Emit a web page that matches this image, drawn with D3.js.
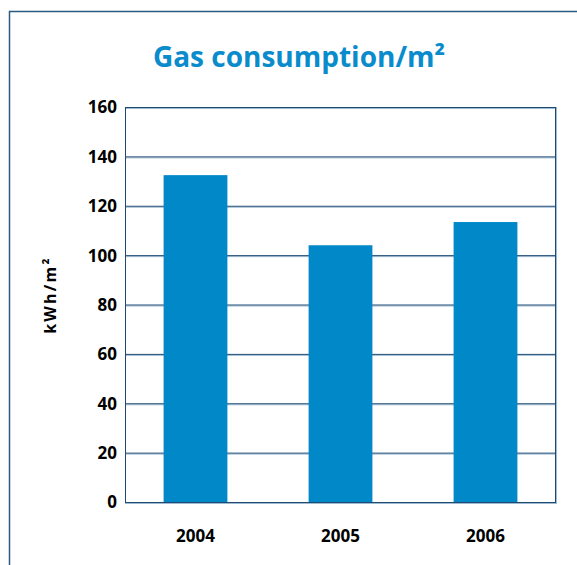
<!DOCTYPE html>
<html><head><meta charset="utf-8">
<script src="https://cdn.jsdelivr.net/npm/d3@7"></script>
<style>body{margin:0;background:#fff}svg{display:block}</style>
</head><body>
<svg id="c" width="577" height="565"></svg>
<script>
const categories = ["2004", "2005", "2006"];
const values = [132.4, 104, 113.4];
const yTicks = [0, 20, 40, 60, 80, 100, 120, 140, 160];
const title = "Gas consumption/m²";
const yLabel = "kWh/m²";

const svg = d3.select("#c");
const M = {left: 125, right: 556, top: 107, bottom: 502};

// outer frame
svg.append("path").attr("d", "M9.5,565 L9.5,11.5 L577,11.5")
  .attr("fill", "none").attr("stroke", "#2b5b84").attr("stroke-width", 1.5);

const x = d3.scaleBand().domain(categories).range([M.left - 2, M.right + 2])
  .paddingInner(0.56).paddingOuter(0.28);
const y = d3.scaleLinear().domain([0, 160]).range([M.bottom, M.top]);

// gridlines
const g = svg.append("g");
yTicks.forEach(t => {
  g.append("line").attr("x1", M.left).attr("x2", M.right)
    .attr("y1", y(t) + 1.5).attr("y2", y(t) + 1.5)
    .attr("stroke", "#9fb9d0").attr("stroke-width", 1);
  g.append("line").attr("x1", M.left).attr("x2", M.right)
    .attr("y1", y(t) + 0.5).attr("y2", y(t) + 0.5)
    .attr("stroke", "#1d4b74").attr("stroke-width", 1);
});
// plot frame sides
svg.append("line").attr("x1", M.left + 0.5).attr("x2", M.left + 0.5)
  .attr("y1", y(160)).attr("y2", y(0) + 1).attr("stroke", "#1d4b74");
svg.append("line").attr("x1", M.right - 0.5).attr("x2", M.right - 0.5)
  .attr("y1", y(160)).attr("y2", y(0) + 1).attr("stroke", "#1d4b74");
svg.append("line").attr("x1", M.right + 0.5).attr("x2", M.right + 0.5)
  .attr("y1", y(160)).attr("y2", y(0) + 2).attr("stroke", "#9fb9d0");

// bars
svg.append("g").selectAll("rect").data(values).join("rect")
  .attr("x", (d, i) => x(categories[i]))
  .attr("width", x.bandwidth())
  .attr("y", d => y(d))
  .attr("height", d => y(0) - y(d))
  .attr("fill", "#0088c8");

// y axis labels
const yAxis = d3.axisLeft(y).tickValues(yTicks).tickSize(0).tickPadding(8);
const ya = svg.append("g").attr("transform", `translate(${M.left},0)`).call(yAxis);
ya.select(".domain").remove();
ya.selectAll("text").attr("font-family", "Open Sans, sans-serif").attr("font-weight", "bold")
  .attr("font-size", 17).attr("fill", "#000").attr("dy", "0.35em");

// x axis labels
const xAxis = d3.axisBottom(x).tickSize(0).tickPadding(28);
const xa = svg.append("g").attr("transform", `translate(0,${M.bottom})`).call(xAxis);
xa.select(".domain").remove();
xa.selectAll("text").attr("font-family", "Open Sans, sans-serif").attr("font-weight", "bold")
  .attr("font-size", 17).attr("fill", "#000");

// title
svg.append("text").attr("x", 299).attr("y", 67).attr("text-anchor", "middle")
  .attr("font-family", "Open Sans, sans-serif").attr("font-weight", "bold")
  .attr("font-size", 28).attr("fill", "#0a8ccc").text(title);

// y label
svg.append("text").attr("transform", "translate(56,295) rotate(-90)")
  .attr("text-anchor", "middle").attr("font-family", "Open Sans, sans-serif")
  .attr("font-weight", "bold").attr("font-size", 16).attr("letter-spacing", 2.2)
  .attr("fill", "#000").text(yLabel);
</script>
</body></html>
